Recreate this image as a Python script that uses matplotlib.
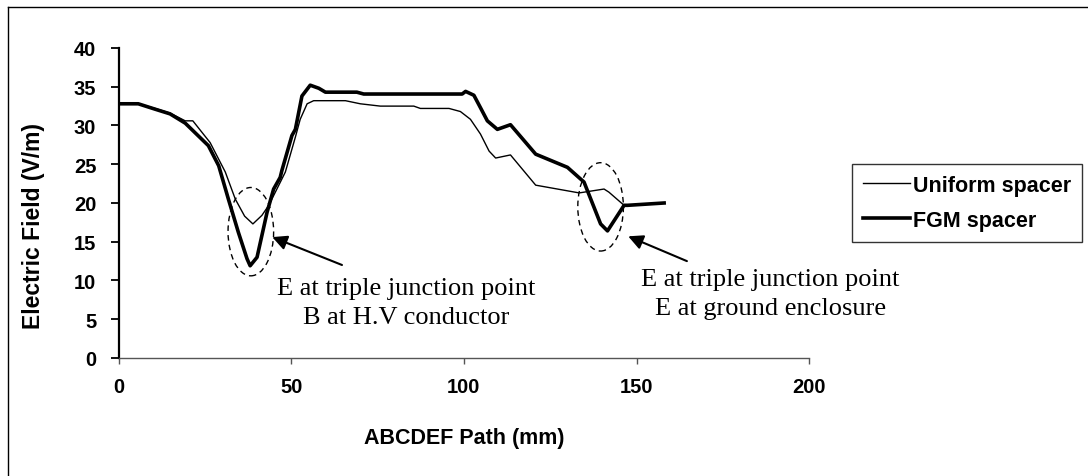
import matplotlib
matplotlib.use("Agg")
import matplotlib.pyplot as plt
from matplotlib.patches import Ellipse
from matplotlib.lines import Line2D

# field along the ABCDEF path, uniform spacer
path_uniform = [0, 5.7, 10.6, 14.9, 19.3, 21.5, 26.5, 30.9, 33.8, 36.5, 38.9, 41.5, 43.5, 47.3,
                48.3, 51.2, 52.6, 54.6, 56.5, 65.7, 70, 75.8, 85.5, 87.4, 95.7, 99, 101.9,
                104.8, 107.3, 109.2, 113.5, 120.8, 133.4, 140.6, 142, 146.4, 147.4, 158]
field_uniform = [32.8, 32.8, 32.2, 31.6, 30.6, 30.6, 27.8, 24.0, 20.5, 18.3, 17.3, 18.4, 19.7, 23.1,
                 24.0, 28.5, 30.8, 32.8, 33.2, 33.2, 32.8, 32.5, 32.5, 32.2, 32.2, 31.8, 30.8,
                 28.9, 26.7, 25.8, 26.2, 22.3, 21.3, 21.8, 21.4, 19.7, 19.7, 20.0]

# field along the ABCDEF path, FGM spacer
path_fgm = [0, 5.7, 10.6, 14.9, 19.3, 26.0, 29.0, 31.8, 34.7, 37.2, 38.1, 40.1, 43.0, 44.9,
            46.8, 47.3, 50.2, 51.2, 53.1, 55.5, 58.0, 59.9, 69.0, 71.0, 99.5, 100.5, 102.9,
            104.8, 106.8, 109.7, 113.5, 120.8, 130.0, 134.8, 139.6, 141.6, 146.4, 147.4, 158]
field_fgm = [32.8, 32.8, 32.1, 31.5, 30.3, 27.4, 24.8, 20.5, 16.2, 12.8, 11.9, 13.0, 18.8, 21.8,
             23.3, 24.2, 28.7, 29.5, 33.8, 35.2, 34.8, 34.3, 34.3, 34.06, 34.06, 34.4, 33.9,
             32.3, 30.6, 29.5, 30.1, 26.3, 24.6, 22.7, 17.3, 16.4, 19.7, 19.7, 20.0]

x_ticks = [0, 50, 100, 150, 200]
y_ticks = [0, 5, 10, 15, 20, 25, 30, 35, 40]

sans = "Liberation Sans"
serif = "Liberation Serif"

fig = plt.figure(figsize=(10.88, 4.77), dpi=100)
ax = fig.add_axes([0.109, 0.2474, 0.6347, 0.6499])

ax.plot(path_uniform, field_uniform, color="black", lw=1.0, label="Uniform spacer")
ax.plot(path_fgm, field_fgm, color="black", lw=2.6, label="FGM spacer")

ax.set_xlim(0, 200)
ax.set_ylim(0, 40)
ax.set_xticks(x_ticks)
ax.set_yticks(y_ticks)
for s in ["top", "right"]:
    ax.spines[s].set_visible(False)
ax.spines["left"].set_linewidth(1.6)
ax.spines["bottom"].set_linewidth(1.0)
ax.spines["bottom"].set_color("#555555")
ax.tick_params(axis="y", direction="out", length=6, width=1.3, pad=10)
ax.tick_params(axis="x", direction="out", length=4, width=1.0, pad=10, color="#555555")
for lab in ax.get_xticklabels() + ax.get_yticklabels():
    lab.set_fontfamily(sans)
    lab.set_fontweight("bold")
    lab.set_fontsize(14.5)

ax.set_xlabel("ABCDEF Path (mm)", fontfamily=sans, fontweight="bold", fontsize=15.5, labelpad=22)
ax.set_ylabel("Electric Field (V/m)", fontfamily=sans, fontweight="bold", fontsize=16.5)
ax.yaxis.set_label_coords(-0.107, 0.43)

# dashed rings around the two dips
for cx, cy in [(38.3, 16.3), (139.6, 19.5)]:
    ax.add_patch(Ellipse((cx, cy), 13.2, 11.4, fill=False, ls=(0, (4, 3)), lw=1.0, color="black"))

arrow = dict(arrowstyle="-|>", mutation_scale=22, lw=1.5, color="black", shrinkA=0, shrinkB=0)
ax.annotate("", xy=(44.5, 15.6), xytext=(64.7, 12.0), arrowprops=arrow, annotation_clip=False)
ax.annotate("", xy=(147.6, 15.7), xytext=(164.6, 12.5), arrowprops=arrow, annotation_clip=False)

ax.text(83.3, 7.2, "E at triple junction point\nB at H.V conductor", ha="center", va="center",
        fontfamily=serif, fontsize=19, linespacing=1.42, clip_on=False)
ax.text(188.7, 8.35, "E at triple junction point\nE at ground enclosure", ha="center", va="center",
        fontfamily=serif, fontsize=19, linespacing=1.42, clip_on=False)

leg = ax.legend(loc="center left", bbox_to_anchor=(852 / 1088, 1 - 204 / 477),
                bbox_transform=fig.transFigure, frameon=True, fancybox=False,
                prop={"family": sans, "weight": "bold", "size": 15.5},
                handlelength=2.2, handletextpad=0.15, borderpad=0.5, labelspacing=0.65,
                borderaxespad=0)
leg.get_frame().set_edgecolor("black")
leg.get_frame().set_linewidth(1.0)

# outer frame lines (top and left)
fig.add_artist(Line2D([0.0069, 0.0069], [0, 0.984], transform=fig.transFigure, color="black", lw=1.0))
fig.add_artist(Line2D([0.0069, 1], [0.984, 0.984], transform=fig.transFigure, color="black", lw=1.0))

fig.savefig("out.png", dpi=100)
